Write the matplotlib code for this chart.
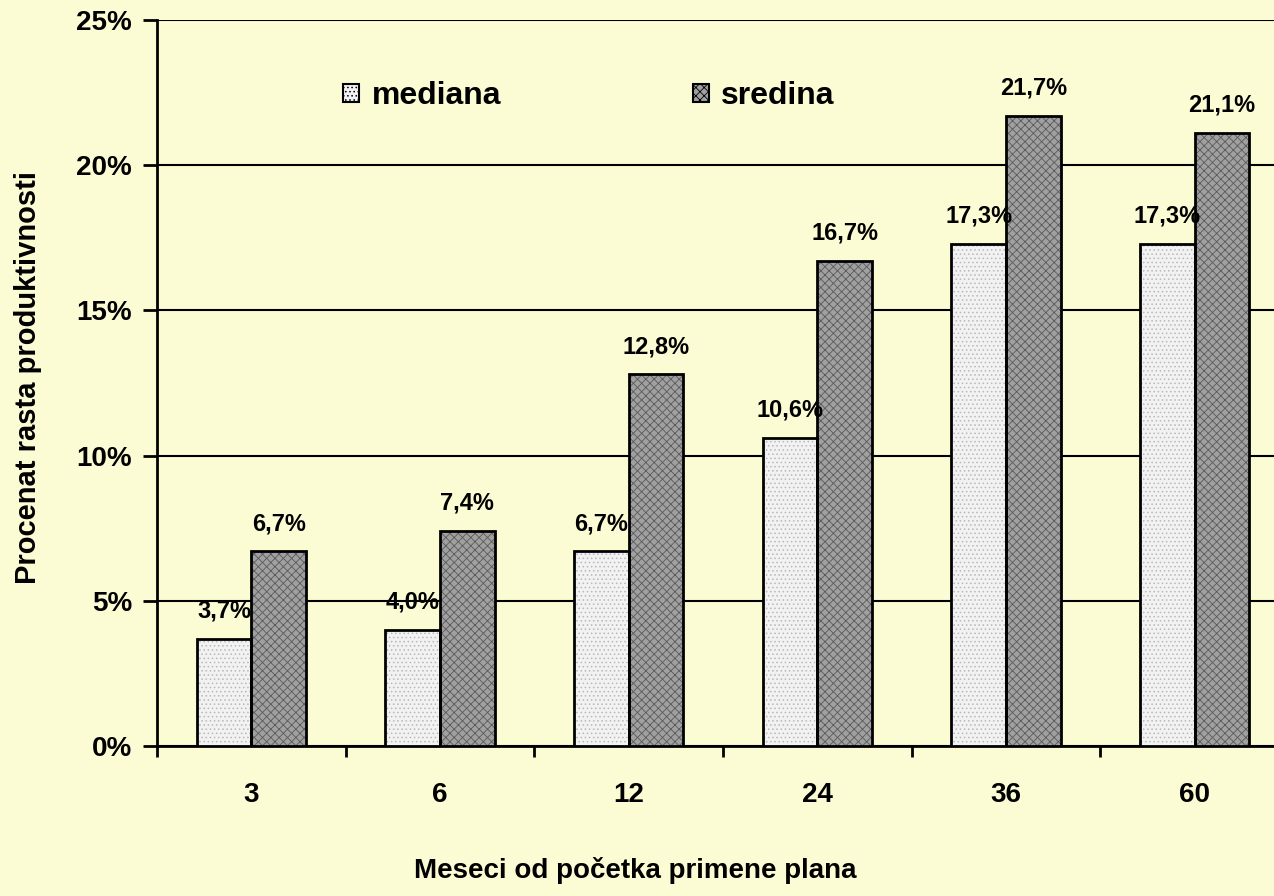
import numpy as np
import matplotlib
matplotlib.use("Agg")
import matplotlib.pyplot as plt
from matplotlib.patches import Patch
from matplotlib.ticker import FuncFormatter

plt.rcParams["font.family"] = ["Liberation Sans", "DejaVu Sans"]
plt.rcParams["font.weight"] = "bold"
plt.rcParams["hatch.linewidth"] = 0.6

months  = ["3", "6", "12", "24", "36", "60"]
mediana = [3.7, 4.0, 6.7, 10.6, 17.3, 17.3]
sredina = [6.7, 7.4, 12.8, 16.7, 21.7, 21.1]

BG = "#FCFCD4"
# (fill, hatch colour, hatch) per series
STYLE_MED = ("#F2F2F2", "#B8B8B8", "....")
STYLE_SRE = ("#A0A0A0", "#5A5A5A", "xxxx")

fig = plt.figure(figsize=(12.74, 8.96), dpi=100, facecolor=BG)
ax = fig.add_axes([157 / 1274, 1 - 746 / 896, (1289 - 157) / 1274, (746 - 20) / 896])
ax.set_facecolor(BG)

x = np.arange(len(months))
w = 0.29
for xs, vals, (fc, hc, ht) in ((x - w / 2, mediana, STYLE_MED), (x + w / 2, sredina, STYLE_SRE)):
    # textured fill, then a plain black outline on top
    ax.bar(xs, vals, w, color=fc, edgecolor=hc, hatch=ht, lw=0, zorder=3)
    ax.bar(xs, vals, w, fill=False, edgecolor="black", lw=2, zorder=4)

# value labels above each bar
for xs, vals in ((x - w / 2, mediana), (x + w / 2, sredina)):
    for xi, v in zip(xs, vals):
        ax.annotate(f"{v:.1f}%".replace(".", ","), (xi, v), xytext=(0, 20),
                    textcoords="offset points", ha="center", va="center",
                    fontsize=17, fontweight="bold", zorder=5)

ax.set_xlim(-0.5, len(months) - 0.5)
ax.set_ylim(0, 25)
ax.set_yticks(np.arange(0, 26, 5))
ax.yaxis.set_major_formatter(FuncFormatter(lambda v, p: f"{v:.0f}%"))
ax.set_xticks(np.arange(len(months) + 1) - 0.5, minor=False)
ax.set_xticklabels([])
ax.set_xticks(x, minor=True)
ax.set_xticklabels(months, minor=True)
ax.tick_params(axis="x", which="major", length=8, width=2, direction="out")
ax.tick_params(axis="x", which="minor", length=0, pad=26, labelsize=20)
ax.tick_params(axis="y", length=10, width=2, pad=8, labelsize=20)
for lab in ax.get_xticklabels(minor=True) + ax.get_yticklabels():
    lab.set_fontweight("bold")

ax.grid(axis="y", color="black", lw=1.5, zorder=0)
ax.set_axisbelow(True)
for s in ("top", "right"):
    ax.spines[s].set_visible(False)
for s in ("left", "bottom"):
    ax.spines[s].set_linewidth(2)

handles = [Patch(facecolor=fc, edgecolor="black", hatch=ht, lw=1.5)
           for fc, hc, ht in (STYLE_MED, STYLE_SRE)]
leg = ax.legend(handles, ["mediana", "sredina"], loc="center left",
                bbox_to_anchor=((314 - 157) / 1132, 1 - (96 - 20) / 726),
                ncol=2, frameon=False, handlelength=0.5,
                handleheight=0.5, handletextpad=0.4, columnspacing=6.0,
                prop={"weight": "bold", "size": 23})

fig.text(0.499, 1 - 870 / 896, "Meseci od početka primene plana", ha="center",
         va="center", fontsize=20, fontweight="bold")
fig.text(28 / 1274, 1 - 378 / 896, "Procenat rasta produktivnosti", ha="center",
         va="center", rotation=90, fontsize=21, fontweight="bold")

fig.savefig("out.png", dpi=100, facecolor=BG)
